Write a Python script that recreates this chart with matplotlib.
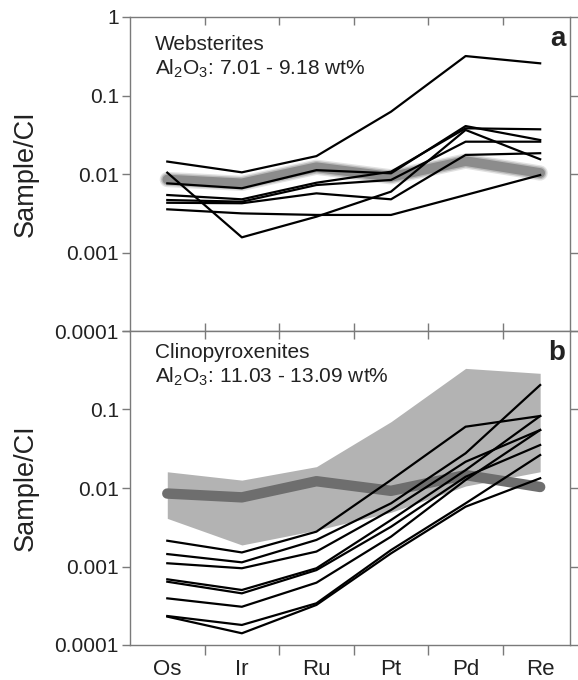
import matplotlib
matplotlib.use("Agg")
import matplotlib.pyplot as plt
import numpy as np

plt.rcParams['font.family'] = ['Liberation Sans', 'DejaVu Sans']
plt.rcParams['mathtext.default'] = 'regular'

elements = ["Os", "Ir", "Ru", "Pt", "Pd", "Re"]
ytick_vals = [0.0001, 0.001, 0.01, 0.1, 1]
ytick_labels_a = ["0.0001", "0.001", "0.01", "0.1", "1"]
ytick_labels_b = ["0.0001", "0.001", "0.01", "0.1", ""]

# reference pattern (thick grey line)
ref_line = [0.0085, 0.0076, 0.0122, 0.0092, 0.0146, 0.0103]

# Panel a: websterites
web_1 = [0.0144, 0.0105, 0.0169, 0.0622, 0.318, 0.257]
web_2 = [0.0104, 0.00156, 0.00286, 0.00596, 0.0364, 0.0154]
web_3 = [0.0076, 0.00658, 0.0112, 0.0102, 0.0408, 0.0271]
web_4 = [0.0054, 0.00476, 0.00774, 0.0107, 0.0382, 0.0371]
web_5 = [0.00466, 0.00444, 0.00724, 0.0084, 0.0258, 0.0258]
web_6 = [0.0043, 0.00424, 0.00567, 0.00476, 0.0175, 0.0184]
web_7 = [0.00355, 0.00315, 0.00301, 0.00301, 0.0054, 0.0097]
websterites = [web_1, web_2, web_3, web_4, web_5, web_6, web_7]

# Panel b: clinopyroxenites
cpx_1 = [0.00213, 0.00151, 0.00278, 0.01265, 0.0604, 0.0826]
cpx_2 = [0.00144, 0.00113, 0.00218, 0.00638, 0.0277, 0.205]
cpx_3 = [0.0011, 0.00095, 0.00155, 0.00525, 0.0216, 0.0548]
cpx_4 = [0.000687, 0.000502, 0.00095, 0.00391, 0.0169, 0.0826]
cpx_5 = [0.00064, 0.000455, 0.0009, 0.00321, 0.0139, 0.0353]
cpx_6 = [0.000393, 0.000307, 0.000622, 0.0024, 0.01265, 0.0548]
cpx_7 = [0.000234, 0.00018, 0.00034, 0.00162, 0.00638, 0.0263]
cpx_8 = [0.00023, 0.000141, 0.000324, 0.00147, 0.00578, 0.0133]
clinopyroxenites = [cpx_1, cpx_2, cpx_3, cpx_4, cpx_5, cpx_6, cpx_7, cpx_8]

# shaded field in panel b
field_upper = [0.0161, 0.0126, 0.0187, 0.070, 0.334, 0.289]
field_lower = [0.0041, 0.00188, 0.0029, 0.0049, 0.0106, 0.0161]

W, H = 578, 680
fig = plt.figure(figsize=(W / 100, H / 100), dpi=100)
left = 130 / W
width = 440 / W
ha = 314 / H
ax_a = fig.add_axes([left, (H - 331) / H, width, ha])
ax_b = fig.add_axes([left, (H - 645) / H, width, ha])

x = np.arange(len(elements))
spine_col = "#7a7a7a"
text_col = "#222222"

for ax in (ax_a, ax_b):
    ax.set_yscale("log")
    ax.set_ylim(0.0001, 1)
    ax.set_xlim(-0.5, 5.4)
    for s in ax.spines.values():
        s.set_color(spine_col)
        s.set_linewidth(1.0)
    ax.set_yticks(ytick_vals)
    ax.yaxis.set_minor_locator(matplotlib.ticker.NullLocator())
    ax.tick_params(axis="y", which="major", direction="out", length=6,
                   width=1.0, color=spine_col, labelsize=15, labelcolor=text_col,
                   left=True, right=True, pad=2)
    ax.set_xticks(x[:-1] + 0.5)
    ax.set_xticklabels([])
    ax.set_ylabel("Sample/CI", fontsize=19.5, color=text_col)
    ax.yaxis.set_label_coords(-0.207, 0.5)

ax_a.set_yticklabels(ytick_labels_a)
ax_b.set_yticklabels(ytick_labels_b)

ax_a.tick_params(axis="x", which="major", direction="in", length=6, width=1.0,
                 color=spine_col, top=True, bottom=True)
ax_b.tick_params(axis="x", which="major", direction="out", length=7, width=1.0,
                 color=spine_col, top=False, bottom=True)
sec = ax_b.secondary_xaxis("top")
sec.set_xticks(x[:-1] + 0.5)
sec.set_xticklabels([])
sec.tick_params(direction="in", length=6, width=1.0, color=spine_col)
sec.spines["top"].set_visible(False)

ax_b.set_xticks(x, minor=True)
ax_b.set_xticklabels(elements, minor=True)
ax_b.tick_params(axis="x", which="minor", length=0, labelsize=16,
                 labelcolor=text_col, pad=10)

# Panel a
for lw, al in [(11, 0.25), (9, 0.45), (7, 1.0)]:
    ax_a.plot(x, ref_line, color="#8c8c8c", lw=lw, alpha=al,
              solid_capstyle="round", solid_joinstyle="round", zorder=2)
for s in websterites:
    ax_a.plot(x, s, color="black", lw=1.6, zorder=3)

ax_a.text(0.057, 0.914, "Websterites", transform=ax_a.transAxes,
          fontsize=15, va="center", ha="left", color=text_col)
ax_a.text(0.057, 0.835, "Al$_2$O$_3$: 7.01 - 9.18 wt%", transform=ax_a.transAxes,
          fontsize=15, va="center", ha="left", color=text_col)
ax_a.text(0.972, 0.93, "a", transform=ax_a.transAxes, fontsize=20,
          fontweight="bold", va="center", ha="center", color=text_col)

# Panel b
ax_b.fill_between(x, field_lower, field_upper, color="#b3b3b3", lw=0, zorder=1)
ax_b.plot(x, ref_line, color="#6e6e6e", lw=7.5, solid_capstyle="round",
          solid_joinstyle="round", zorder=2)
for s in clinopyroxenites:
    ax_b.plot(x, s, color="black", lw=1.6, zorder=3)

ax_b.text(0.057, 0.933, "Clinopyroxenites", transform=ax_b.transAxes,
          fontsize=15, va="center", ha="left", color=text_col)
ax_b.text(0.057, 0.853, "Al$_2$O$_3$: 11.03 - 13.09 wt%", transform=ax_b.transAxes,
          fontsize=15, va="center", ha="left", color=text_col)
ax_b.text(0.97, 0.93, "b", transform=ax_b.transAxes, fontsize=20,
          fontweight="bold", va="center", ha="center", color=text_col)

fig.savefig("out.png", dpi=100)
